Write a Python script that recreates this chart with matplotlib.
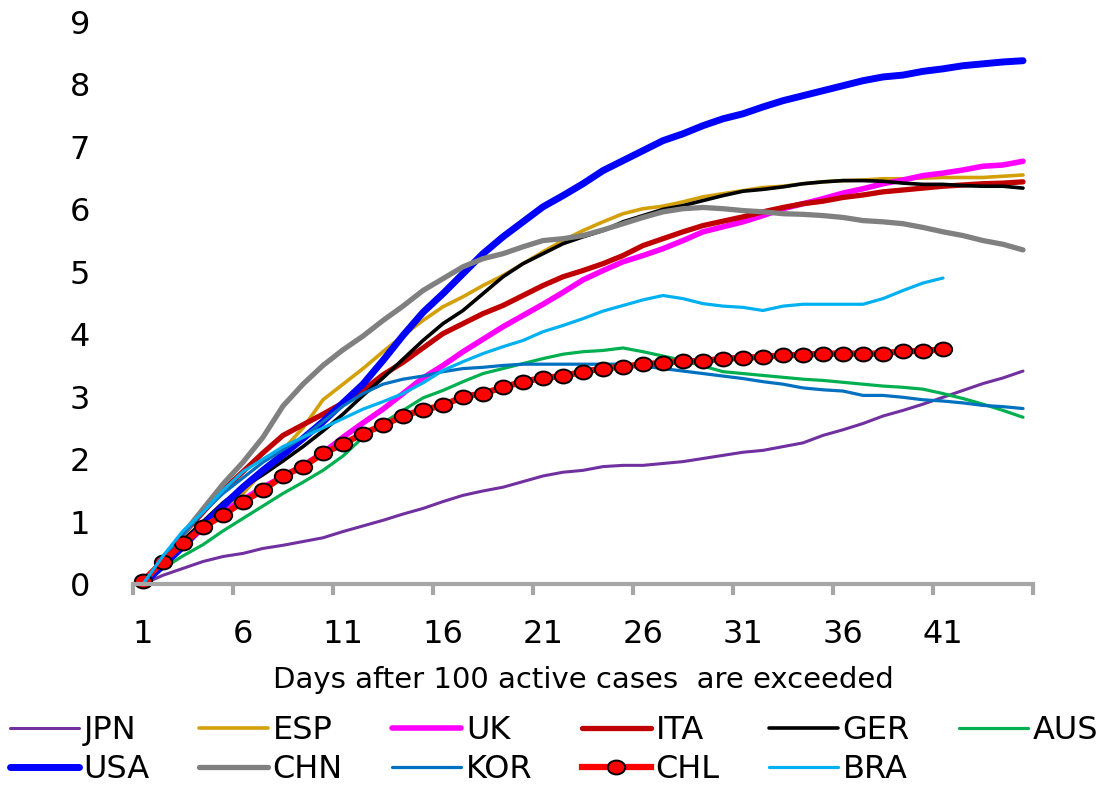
import numpy as np
import matplotlib
matplotlib.use("Agg")
import matplotlib.pyplot as plt
from matplotlib.path import Path
from matplotlib.transforms import Affine2D

plt.rcParams['font.family'] = ['DejaVu Sans']

# Data
jpn = [0, 0.14, 0.25, 0.36, 0.44, 0.49, 0.57, 0.62, 0.68, 0.74, 0.84, 0.93, 1.02, 1.12, 1.21,
       1.32, 1.42, 1.49, 1.55, 1.64, 1.73, 1.79, 1.82, 1.88, 1.9, 1.9, 1.93, 1.96, 2.01, 2.06,
       2.11, 2.14, 2.2, 2.26, 2.38, 2.47, 2.57, 2.69, 2.78, 2.88, 2.99, 3.1, 3.21, 3.3, 3.41]
esp = [0, 0.3, 0.6, 0.9, 1.15, 1.45, 1.8, 2.15, 2.5, 2.95, 3.2, 3.45, 3.72, 3.98, 4.22,
       4.44, 4.6, 4.78, 4.94, 5.13, 5.32, 5.5, 5.66, 5.8, 5.93, 6.01, 6.05, 6.12, 6.2, 6.25,
       6.3, 6.35, 6.37, 6.41, 6.44, 6.46, 6.47, 6.49, 6.49, 6.5, 6.51, 6.51, 6.51, 6.53, 6.55]
uk = [0, 0.3, 0.6, 0.9, 1.15, 1.35, 1.55, 1.72, 1.9, 2.1, 2.35, 2.58, 2.8, 3.05, 3.3,
      3.5, 3.72, 3.92, 4.12, 4.3, 4.48, 4.67, 4.87, 5.02, 5.16, 5.26, 5.37, 5.5, 5.64, 5.72,
      5.8, 5.9, 6.01, 6.09, 6.17, 6.26, 6.33, 6.41, 6.47, 6.54, 6.58, 6.63, 6.69, 6.71, 6.77]
ita = [0, 0.4, 0.8, 1.15, 1.5, 1.8, 2.1, 2.38, 2.55, 2.72, 2.9, 3.1, 3.35, 3.55, 3.78,
       4.01, 4.17, 4.33, 4.46, 4.62, 4.78, 4.92, 5.02, 5.13, 5.26, 5.42, 5.53, 5.64, 5.74, 5.81,
       5.88, 5.96, 6.03, 6.09, 6.13, 6.19, 6.23, 6.28, 6.31, 6.34, 6.37, 6.39, 6.41, 6.42, 6.44]
ger = [0, 0.35, 0.7, 1.0, 1.3, 1.55, 1.75, 1.97, 2.2, 2.45, 2.72, 3.02, 3.3, 3.6, 3.9,
       4.17, 4.38, 4.65, 4.92, 5.13, 5.29, 5.45, 5.56, 5.66, 5.8, 5.9, 6.0, 6.06, 6.14, 6.22,
       6.29, 6.32, 6.36, 6.41, 6.44, 6.46, 6.46, 6.45, 6.42, 6.4, 6.4, 6.38, 6.37, 6.37, 6.34]
aus = [0, 0.25, 0.45, 0.63, 0.85, 1.05, 1.25, 1.45, 1.63, 1.82, 2.05, 2.35, 2.58, 2.78, 2.98,
       3.1, 3.24, 3.37, 3.45, 3.53, 3.61, 3.68, 3.72, 3.74, 3.78, 3.72, 3.65, 3.58, 3.49, 3.4,
       3.37, 3.34, 3.31, 3.28, 3.26, 3.23, 3.2, 3.17, 3.15, 3.12, 3.05, 2.97, 2.88, 2.78, 2.67]
usa = [0, 0.3, 0.6, 0.95, 1.25, 1.55, 1.82, 2.07, 2.33, 2.6, 2.9, 3.2, 3.58, 3.98, 4.35,
       4.65, 4.97, 5.29, 5.56, 5.8, 6.04, 6.22, 6.41, 6.62, 6.78, 6.94, 7.1, 7.21, 7.34, 7.45,
       7.53, 7.64, 7.74, 7.82, 7.9, 7.98, 8.06, 8.12, 8.15, 8.21, 8.25, 8.3, 8.33, 8.36, 8.38]
chn = [0, 0.4, 0.8, 1.2, 1.6, 1.95, 2.35, 2.85, 3.2, 3.5, 3.75, 3.97, 4.22, 4.45, 4.7,
       4.89, 5.08, 5.21, 5.29, 5.4, 5.5, 5.53, 5.58, 5.67, 5.77, 5.87, 5.96, 6.01, 6.03, 6.01,
       5.98, 5.96, 5.93, 5.92, 5.9, 5.87, 5.82, 5.8, 5.77, 5.71, 5.64, 5.58, 5.5, 5.44, 5.35]
kor = [0, 0.4, 0.8, 1.15, 1.45, 1.7, 1.95, 2.15, 2.35, 2.6, 2.85, 3.05, 3.2, 3.28, 3.33,
       3.4, 3.45, 3.47, 3.5, 3.52, 3.52, 3.52, 3.52, 3.52, 3.52, 3.49, 3.45, 3.41, 3.37, 3.33,
       3.29, 3.24, 3.2, 3.14, 3.11, 3.09, 3.02, 3.02, 2.99, 2.95, 2.93, 2.9, 2.86, 2.84, 2.81]
chl = [0.05, 0.36, 0.65, 0.91, 1.1, 1.32, 1.5, 1.73, 1.88, 2.09, 2.24, 2.41, 2.54, 2.69, 2.79,
       2.86, 3.0, 3.05, 3.15, 3.24, 3.3, 3.33, 3.4, 3.45, 3.48, 3.52, 3.54, 3.57, 3.57, 3.61,
       3.62, 3.64, 3.66, 3.67, 3.69, 3.69, 3.69, 3.69, 3.73, 3.73, 3.76]
bra = [0, 0.45, 0.85, 1.15, 1.5, 1.8, 2.0, 2.2, 2.35, 2.5, 2.65, 2.8, 2.92, 3.05, 3.22,
       3.42, 3.56, 3.69, 3.8, 3.9, 4.04, 4.14, 4.25, 4.37, 4.46, 4.55, 4.62, 4.57, 4.49, 4.45,
       4.43, 4.38, 4.45, 4.48, 4.48, 4.48, 4.48, 4.57, 4.7, 4.82, 4.9]

names = ["JPN", "ESP", "UK", "ITA", "GER", "AUS", "USA", "CHN", "KOR", "CHL", "BRA"]
series = [jpn, esp, uk, ita, ger, aus, usa, chn, kor, chl, bra]
colors = ["#7030A0", "#D4A00A", "#FF00FF", "#C00000", "#000000", "#00B050",
          "#0000FF", "#808080", "#0070C0", "#FF0000", "#00B0F0"]
widths = [2.2, 2.6, 4.0, 3.8, 2.6, 2.3, 5.0, 3.8, 2.3, 4.5, 2.3]

xticks = [1, 6, 11, 16, 21, 26, 31, 36, 41]

# slightly wide ellipse marker for CHL
ellipse = Path.unit_circle().transformed(Affine2D().scale(1.25, 1.0))

fig = plt.figure(figsize=(11.15, 7.94), dpi=100)
ax = fig.add_axes([133 / 1115, 1 - 584 / 794, 900 / 1115, 562 / 794])

lines = {}
for name, vals, c, lw in zip(names, series, colors, widths):
    days = np.arange(1, len(vals) + 1)
    if name == "CHL":
        ln, = ax.plot(days, vals, color=c, lw=lw, marker=ellipse, markersize=12.5,
                      markerfacecolor="#FF0000", markeredgecolor="black",
                      markeredgewidth=1.4, label=name, clip_on=False)
    else:
        ln, = ax.plot(days, vals, color=c, lw=lw, label=name,
                      solid_capstyle="round", clip_on=False)
    lines[name] = ln

ax.set_xlim(0.5, 45.5)
ax.set_ylim(0, 9)

for s in ["top", "right", "left"]:
    ax.spines[s].set_visible(False)
ax.spines["bottom"].set_color("#A6A6A6")
ax.spines["bottom"].set_linewidth(3)

ax.set_xticks(xticks)
ax.set_xticklabels([str(t) for t in xticks], fontsize=23)
ax.set_xticks(np.arange(0.5, 46, 5), minor=True)
ax.tick_params(axis="x", which="major", length=0, pad=25)
ax.tick_params(axis="x", which="minor", length=8, width=3, color="#A6A6A6", direction="out")
ax.set_yticks(range(0, 10))
ax.tick_params(axis="y", length=0, pad=31, labelsize=23)

ax.set_xlabel("Days after 100 active cases  are exceeded", fontsize=21, labelpad=12)

# legend: two rows laid out like the original (row-wise order)
order = ["JPN", "USA", "ESP", "CHN", "UK", "KOR", "ITA", "CHL", "GER", "BRA", "AUS"]
fig.legend([lines[n] for n in order], order, ncol=6, loc="center",
           bbox_to_anchor=(0.497, 1 - 750 / 794), frameon=False, fontsize=23,
           handlelength=2.15, handletextpad=0.15, columnspacing=1.55, labelspacing=0.25,
           borderaxespad=0)

fig.savefig("out.png", dpi=100)
